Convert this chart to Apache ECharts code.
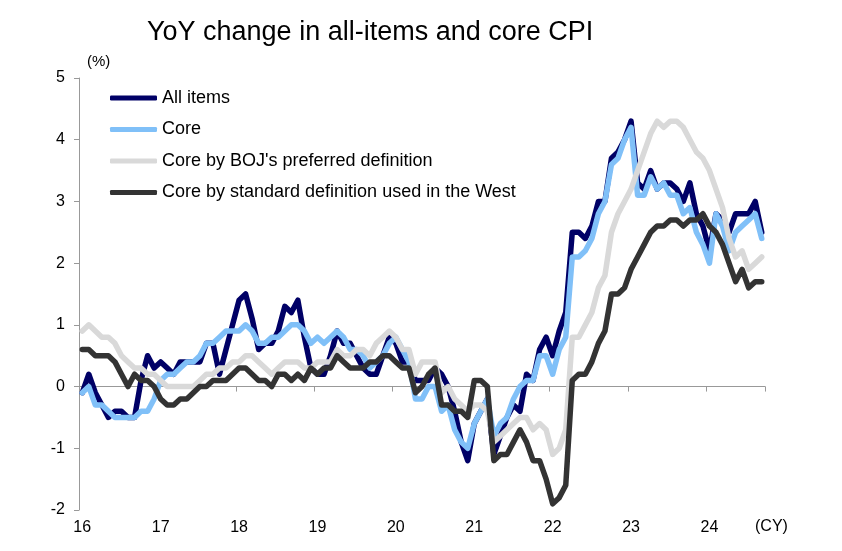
<!DOCTYPE html>
<html>
<head>
<meta charset="utf-8">
<script src="https://cdn.jsdelivr.net/npm/echarts@6/dist/echarts.min.js"></script>
<style>
html,body{margin:0;padding:0;background:#fff;}
#chart{width:842px;height:551px;}
</style>
</head>
<body>
<div id="chart"></div>
<script>
// Monthly data, Jan 2016 - Sep 2024 (YoY %)
const yearLabels = ['16','17','18','19','20','21','22','23','24'];
const lastYearMonths = 9;

const allItems = [
  -0.1, 0.2, -0.1, -0.3, -0.5, -0.4, -0.4, -0.5, -0.5, 0.1, 0.5, 0.3,
  0.4, 0.3, 0.2, 0.4, 0.4, 0.4, 0.4, 0.7, 0.7, 0.2, 0.6, 1.0,
  1.4, 1.5, 1.1, 0.6, 0.7, 0.7, 0.9, 1.3, 1.2, 1.4, 0.8, 0.3,
  0.2, 0.2, 0.5, 0.9, 0.7, 0.7, 0.5, 0.3, 0.2, 0.2, 0.5, 0.8,
  0.7, 0.4, 0.4, 0.1, 0.1, 0.1, 0.3, 0.2, 0.0, -0.4, -0.9, -1.2,
  -0.6, -0.4, -0.2, -1.1, -0.8, -0.5, -0.3, -0.4, 0.2, 0.1, 0.6, 0.8,
  0.5, 0.9, 1.2, 2.5, 2.5, 2.4, 2.6, 3.0, 3.0, 3.7, 3.8, 4.0,
  4.3, 3.3, 3.2, 3.5, 3.2, 3.3, 3.3, 3.2, 3.0, 3.3, 2.8, 2.6,
  2.2, 2.8, 2.7, 2.5, 2.8, 2.8, 2.8, 3.0, 2.5
];
const core = [
  -0.1, 0.0, -0.3, -0.3, -0.4, -0.5, -0.5, -0.5, -0.5, -0.4, -0.4, -0.2,
  0.1, 0.2, 0.2, 0.3, 0.4, 0.4, 0.5, 0.7, 0.7, 0.8, 0.9, 0.9,
  0.9, 1.0, 0.9, 0.7, 0.7, 0.8, 0.8, 0.9, 1.0, 1.0, 0.9, 0.7,
  0.8, 0.7, 0.8, 0.9, 0.8, 0.6, 0.6, 0.5, 0.3, 0.4, 0.5, 0.7,
  0.8, 0.6, 0.4, -0.2, -0.2, 0.0, 0.0, -0.4, -0.3, -0.7, -0.9, -1.0,
  -0.6, -0.4, -0.2, -0.8, -0.6, -0.5, -0.2, 0.0, 0.1, 0.1, 0.5, 0.5,
  0.2, 0.6, 0.8, 2.1, 2.1, 2.2, 2.4, 2.8, 3.0, 3.6, 3.7, 4.0,
  4.2, 3.1, 3.1, 3.4, 3.2, 3.3, 3.1, 3.1, 2.8, 2.9, 2.5, 2.3,
  2.0, 2.8, 2.6, 2.2, 2.5, 2.6, 2.7, 2.8, 2.4
];
const bojCore = [
  0.9, 1.0, 0.9, 0.8, 0.8, 0.7, 0.5, 0.4, 0.3, 0.3, 0.2, 0.2,
  0.1, 0.0, 0.0, 0.0, 0.0, 0.0, 0.1, 0.2, 0.2, 0.3, 0.3, 0.4,
  0.4, 0.5, 0.5, 0.4, 0.3, 0.2, 0.3, 0.4, 0.4, 0.4, 0.3, 0.3,
  0.4, 0.4, 0.4, 0.6, 0.5, 0.5, 0.6, 0.6, 0.5, 0.7, 0.8, 0.9,
  0.8, 0.6, 0.6, 0.2, 0.4, 0.4, 0.4, -0.1, 0.0, -0.2, -0.3, -0.4,
  -0.3, -0.3, -0.4, -0.9, -0.8, -0.7, -0.6, -0.5, -0.5, -0.7, -0.6, -0.7,
  -1.1, -1.0, -0.7, 0.8, 0.8, 1.0, 1.2, 1.6, 1.8, 2.5, 2.8, 3.0,
  3.2, 3.5, 3.8, 4.1, 4.3, 4.2, 4.3, 4.3, 4.2, 4.0, 3.8, 3.7,
  3.5, 3.2, 2.9, 2.4, 2.1, 2.2, 1.9, 2.0, 2.1
];
const westCore = [
  0.6, 0.6, 0.5, 0.5, 0.5, 0.4, 0.2, 0.0, 0.2, 0.1, 0.1, 0.0,
  -0.2, -0.3, -0.3, -0.2, -0.2, -0.1, 0.0, 0.0, 0.1, 0.1, 0.1, 0.2,
  0.3, 0.3, 0.2, 0.1, 0.1, 0.0, 0.2, 0.2, 0.1, 0.2, 0.1, 0.3,
  0.2, 0.3, 0.3, 0.5, 0.4, 0.3, 0.3, 0.3, 0.4, 0.4, 0.5, 0.5,
  0.4, 0.3, 0.3, -0.1, 0.0, 0.2, 0.3, -0.3, -0.3, -0.4, -0.4, -0.5,
  0.1, 0.1, 0.0, -1.2, -1.1, -1.1, -0.9, -0.7, -0.9, -1.2, -1.2, -1.5,
  -1.9, -1.8, -1.6, 0.1, 0.2, 0.2, 0.4, 0.7, 0.9, 1.5, 1.5, 1.6,
  1.9, 2.1, 2.3, 2.5, 2.6, 2.6, 2.7, 2.7, 2.6, 2.7, 2.7, 2.8,
  2.6, 2.5, 2.3, 2.0, 1.7, 1.9, 1.6, 1.7, 1.7
];
const seriesNames = ['All items', 'Core', "Core by BOJ's preferred definition", 'Core by standard definition used in the West'];

// month categories
const categories = [];
yearLabels.forEach((y, yi) => {
  const n = (yi === yearLabels.length - 1) ? lastYearMonths : 12;
  for (let m = 1; m <= n; m++) categories.push(y + '-' + (m < 10 ? '0' + m : m));
});

const chart = echarts.init(document.getElementById('chart'), null, {renderer: 'canvas'});
const FONT = '"Liberation Sans", Arial, sans-serif';
const colors = ['#000066', '#80c0f8', '#d9d9d9', '#333333'];
const dataSets = [allItems, core, bojCore, westCore];

chart.setOption({
  animation: false,
  backgroundColor: '#ffffff',
  title: {
    text: 'YoY change in all-items and core CPI',
    left: 142, top: 14,
    textStyle: {fontFamily: FONT, fontSize: 27, fontWeight: 'normal', color: '#000'}
  },
  grid: {left: 79, right: 77, top: 78, bottom: 41, containLabel: false},
  legend: {
    orient: 'vertical',
    left: 105, top: 84,
    itemWidth: 47, itemHeight: 5,
    itemGap: 13.5,
    icon: 'roundRect',
    textStyle: {fontFamily: FONT, fontSize: 18, color: '#000', lineHeight: 18},
    data: seriesNames
  },
  xAxis: [
    {
      type: 'category', data: categories, position: 'bottom', boundaryGap: true,
      axisLine: {show: false, onZero: false},
      axisTick: {show: false},
      axisLabel: {
        interval: (idx) => idx % 12 === 0,
        formatter: (v) => v.split('-')[0],
        fontFamily: FONT, fontSize: 16, color: '#000', margin: 10
      },
      splitLine: {show: false}
    },
    {
      type: 'category', data: categories, position: 'top', boundaryGap: true,
      axisLine: {show: true, onZero: true, lineStyle: {color: '#999999', width: 1}},
      axisTick: {show: true, inside: true, length: 5, interval: (idx) => idx % 12 === 0, lineStyle: {color: '#999999'}},
      axisLabel: {show: false},
      splitLine: {show: false}
    }
  ],
  yAxis: {
    type: 'value', min: -2, max: 5, interval: 1,
    axisLine: {show: true, lineStyle: {color: '#999999', width: 1}},
    axisTick: {show: true, inside: false, length: 5, lineStyle: {color: '#999999'}},
    axisLabel: {fontFamily: FONT, fontSize: 16, color: '#000', margin: 14},
    splitLine: {show: false}
  },
  graphic: [
    {type: 'text', left: 87, top: 54, style: {text: '(%)', font: '15px ' + FONT, fill: '#000'}},
    {type: 'text', left: 755, top: 519, style: {text: '(CY)', font: '16px ' + FONT, fill: '#000'}}
  ],
  series: dataSets.map((d, i) => ({
    name: seriesNames[i],
    type: 'line',
    data: d,
    xAxisIndex: 0,
    symbol: 'none',
    color: colors[i],
    lineStyle: {width: 5.5, color: colors[i], cap: 'round', join: 'round'},
    z: 2 + i
  }))
});
</script>
</body>
</html>
